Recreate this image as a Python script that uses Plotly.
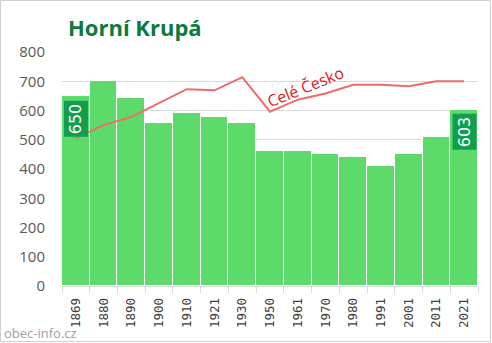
import plotly.graph_objects as go

years = ["1869", "1880", "1890", "1900", "1910", "1921", "1930", "1950",
         "1961", "1970", "1980", "1991", "2001", "2011", "2021"]
population = [650, 701, 642, 556, 593, 577, 556, 461, 461, 453, 440, 410, 453, 508, 603]
czechia_scaled = [505, 550, 578, 625, 673, 669, 714, 596, 637, 658, 688, 688, 683, 700, 700]
labelled_years = ["1869", "2021"]
labelled_values = [650, 603]

W, H = 492, 343
L, R, T, B = 62, 14, 52, 57
PW, PH = W - L - R, H - T - B


def px(x):
    return (x - L) / PW


def py(y):
    return (H - B - y) / PH


fig = go.Figure()
fig.add_trace(go.Bar(
    x=years, y=population,
    marker=dict(color="#5cdb6a", line=dict(color="white", width=1)),
))
fig.add_trace(go.Scatter(
    x=years, y=czechia_scaled, mode="lines",
    line=dict(color="#ee6b6b", width=2),
))

annotations = []
for yr, val in zip(labelled_years, labelled_values):
    annotations.append(dict(
        x=years.index(yr), y=val, xref="x", yref="y", text=str(val),
        textangle=-90, showarrow=False, yanchor="top", xanchor="center", yshift=-4,
        font=dict(family="DejaVu Sans", size=16, color="white"),
        bgcolor="#0f9f4f", borderpad=2,
    ))
annotations.append(dict(
    x=px(305), y=py(87), xref="paper", yref="paper", text="Celé Česko",
    xanchor="center", yanchor="middle",
    showarrow=False, textangle=-22,
    font=dict(family="Open Sans", size=16, color="#e3161c"),
))
annotations.append(dict(
    text="obec-info.cz", xref="paper", yref="paper",
    x=px(2), y=py(333), xanchor="left", yanchor="middle", showarrow=False,
    font=dict(family="Open Sans", size=13, color="#a0a0a0"),
))

fig.update_layout(
    width=W, height=H,
    margin=dict(l=L, r=R, t=T, b=B),
    paper_bgcolor="white", plot_bgcolor="white",
    showlegend=False, bargap=0,
    title=dict(text="<b>Horní Krupá</b>", x=68 / W, xanchor="left",
               y=1 - 28 / H, yanchor="middle",
               font=dict(family="Open Sans", size=22, color="#0b7a3e")),
    xaxis=dict(type="category", categoryorder="array", categoryarray=years,
               range=[-0.5, len(years) - 0.5],
               tickangle=-90, tickson="boundaries",
               ticks="outside", ticklen=6, tickcolor="#d9d9d9",
               showline=True, linecolor="#d9d9d9", ticklabelstandoff=6,
               tickfont=dict(family="DejaVu Sans Mono", size=12.5, color="#404040")),
    yaxis=dict(range=[0, 800], dtick=100, gridcolor="#d9d9d9",
               zeroline=False, ticks="", ticklabelstandoff=16,
               tickfont=dict(family="Open Sans", size=15, color="#595959")),
    annotations=annotations,
    shapes=[dict(type="rect", xref="paper", yref="paper",
                 x0=px(0.5), x1=px(W - 1.5), y0=py(H - 1.5), y1=py(0.5),
                 line=dict(color="#d0d0d0", width=1), layer="below")],
)

fig.write_html("out.html")
